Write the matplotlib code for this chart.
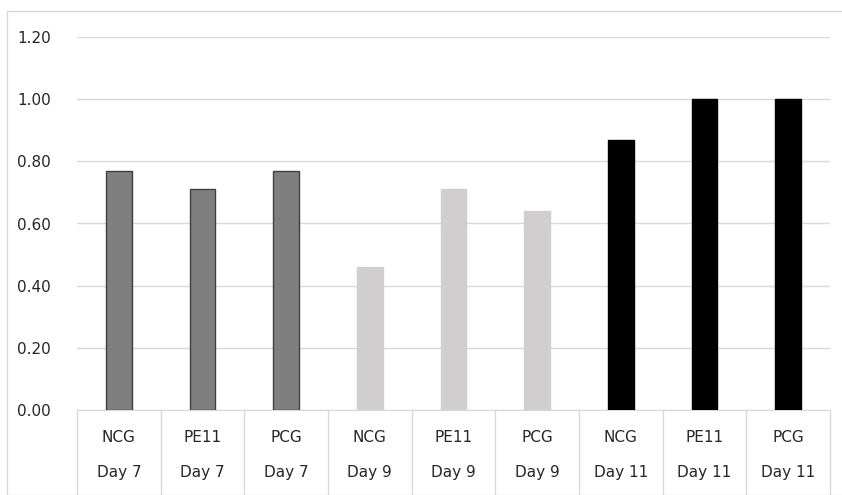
import matplotlib.pyplot as plt
from matplotlib.patches import Rectangle

# datos
grupos = ['NCG', 'PE11', 'PCG', 'NCG', 'PE11', 'PCG', 'NCG', 'PE11', 'PCG']
dias = ['Day 7', 'Day 7', 'Day 7', 'Day 9', 'Day 9', 'Day 9', 'Day 11', 'Day 11', 'Day 11']
valores = [0.77, 0.71, 0.77, 0.46, 0.71, 0.64, 0.87, 1.00, 1.00]
yticks = [0.0, 0.2, 0.4, 0.6, 0.8, 1.0, 1.2]

colores_dia = {'Day 7': '#7f7f7f', 'Day 9': '#d0cece', 'Day 11': '#000000'}
bordes_dia = {'Day 7': '#3f3f3f', 'Day 9': '#d0cece', 'Day 11': '#000000'}

W, H = 842, 495
plt.rcParams['font.family'] = ['DejaVu Sans']
fig = plt.figure(figsize=(W / 100, H / 100), dpi=100)

# marco exterior del grafico
fig.patches.append(Rectangle((7 / W, 0), 1.0, (H - 11) / H, transform=fig.transFigure,
                             fill=False, edgecolor='#d9d9d9', linewidth=1))

ax = fig.add_axes([77 / W, (H - 410) / H, 753 / W, 373 / H])
x = list(range(len(valores)))
ax.bar(x, valores, width=0.31,
       color=[colores_dia[d] for d in dias],
       edgecolor=[bordes_dia[d] for d in dias], linewidth=1, zorder=3)

ax.set_xlim(-0.5, len(valores) - 0.5)
ax.set_ylim(0, 1.2)
ax.set_yticks(yticks)
ax.set_yticklabels([f"{v:.2f}" for v in yticks], fontsize=11, color='#262626')
ax.tick_params(axis='y', length=0, pad=19)
ax.set_xticks([])
ax.grid(axis='y', color='#d9d9d9', linewidth=1, zorder=0)
for s in ['top', 'right', 'left']:
    ax.spines[s].set_visible(False)
ax.spines['bottom'].set_color('#d9d9d9')

# etiquetas de categoria en dos niveles
trans = ax.get_xaxis_transform()
fondo = -(H - 410) / 373
for i in x:
    ax.text(i, -28 / 373, grupos[i], transform=trans, ha='center', va='center',
            fontsize=11, color='#262626')
    ax.text(i, -63 / 373, dias[i], transform=trans, ha='center', va='center',
            fontsize=11, color='#262626')
for i in range(len(valores) + 1):
    ax.plot([i - 0.5, i - 0.5], [0, fondo], transform=trans, color='#d9d9d9',
            linewidth=1, clip_on=False)

fig.savefig('out.png', dpi=100)
